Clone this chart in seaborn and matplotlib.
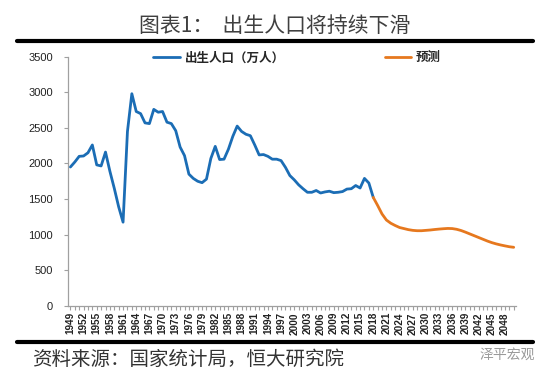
## Birth population chart, rebuilt with seaborn
import numpy as np
import pandas as pd
import matplotlib
matplotlib.use("Agg")
import matplotlib.pyplot as plt
from matplotlib.lines import Line2D
import seaborn as sns

## Data
hist_years = list(range(1949, 2019))
hist_births = [1950, 2020, 2100, 2105, 2150, 2260, 1980, 1965, 2160, 1890,
               1650, 1390, 1175, 2450, 2980, 2730, 2700, 2570, 2560, 2760,
               2720, 2730, 2580, 2560, 2460, 2230, 2110, 1850, 1790, 1750,
               1730, 1780, 2070, 2240, 2055, 2060, 2200, 2380, 2525, 2450,
               2410, 2390, 2260, 2120, 2125, 2100, 2060, 2060, 2040, 1945,
               1830, 1770, 1700, 1645, 1595, 1595, 1620, 1585, 1600, 1610,
               1590, 1595, 1605, 1640, 1645, 1690, 1655, 1790, 1725, 1523]
fcst_years = list(range(2018, 2051))
fcst_births = [1523, 1410, 1290, 1205, 1160, 1128, 1100, 1085, 1070, 1060,
               1055, 1055, 1060, 1065, 1072, 1078, 1083, 1087, 1085, 1075,
               1058, 1035, 1010, 985, 960, 935, 910, 888, 870, 855,
               842, 830, 822]
label_hist = "出生人口（万人）"
label_fcst = "预测"
title_text = "图表1：  出生人口将持续下滑"
source_text = "资料来源：国家统计局，恒大研究院"
mark_text = "泽平宏观"

hist = pd.DataFrame({"year": hist_years, "births": hist_births})
fcst = pd.DataFrame({"year": fcst_years, "births": fcst_births})

## Style
sns.set_style("white")
plt.rcParams["font.family"] = ["Noto Sans CJK SC", "DejaVu Sans"]

fig = plt.figure(figsize=(5.5, 3.78), dpi=100)
ax = fig.add_axes([0.124, 0.191, 0.814, 0.659])

sns.lineplot(data=hist, x="year", y="births", ax=ax, color="#1B6DB5",
             linewidth=2.0, label=label_hist)
sns.lineplot(data=fcst, x="year", y="births", ax=ax, color="#E6781E",
             linewidth=2.0, label=label_fcst)

## Axes
ax.set_xlim(1948.5, 2050.5)
ax.set_ylim(0, 3500)
ax.set_yticks(range(0, 3501, 500))
ax.set_xlabel("")
ax.set_ylabel("")
all_years = list(range(1949, 2051))
ax.set_xticks(all_years)
ax.set_xticklabels([str(y) if (y - 1949) % 3 == 0 else "" for y in all_years],
                   rotation=90, fontsize=7.2, fontweight="bold",
                   family=["Liberation Sans Narrow", "Liberation Sans", "DejaVu Sans"],
                   color="#222222")
for lab in ax.get_yticklabels():
    lab.set_fontsize(8)
    lab.set_family(["Liberation Sans", "DejaVu Sans"])
    lab.set_color("#222222")
ax.tick_params(axis="both", which="major", direction="out", length=3,
               width=0.8, color="#A0A0A0", pad=1.5, bottom=True, left=True)
ax.tick_params(axis="y", pad=8)
sns.despine(ax=ax)
for side in ["left", "bottom"]:
    ax.spines[side].set_color("#A0A0A0")
    ax.spines[side].set_linewidth(0.9)
ax.grid(False)

## Legend
ax.legend(loc="center", bbox_to_anchor=(0.54, 0.847),
          bbox_transform=fig.transFigure, ncol=2, frameon=False,
          handlelength=2.1, handletextpad=0.4, columnspacing=8.0,
          prop={"size": 9, "weight": "bold"})

## Title, rules and footer
fig.text(0.50, 1 - 26 / 378, title_text, ha="center", va="center",
         fontsize=15, color="#404040")
fig.add_artist(Line2D([17 / 550, 533 / 550], [1 - 41 / 378, 1 - 41 / 378],
                      color="black", linewidth=3.0))
fig.add_artist(Line2D([17 / 550, 533 / 550], [1 - 342 / 378, 1 - 342 / 378],
                      color="black", linewidth=3.0))
fig.text(32 / 550, 1 - 359 / 378, source_text, ha="left", va="center",
         fontsize=14, color="#333333", style="italic")
fig.text(535 / 550, 1 - 355 / 378, mark_text, ha="right", va="center",
         fontsize=10, color="#9A9A9A")

plt.savefig("out.png", dpi=100)
